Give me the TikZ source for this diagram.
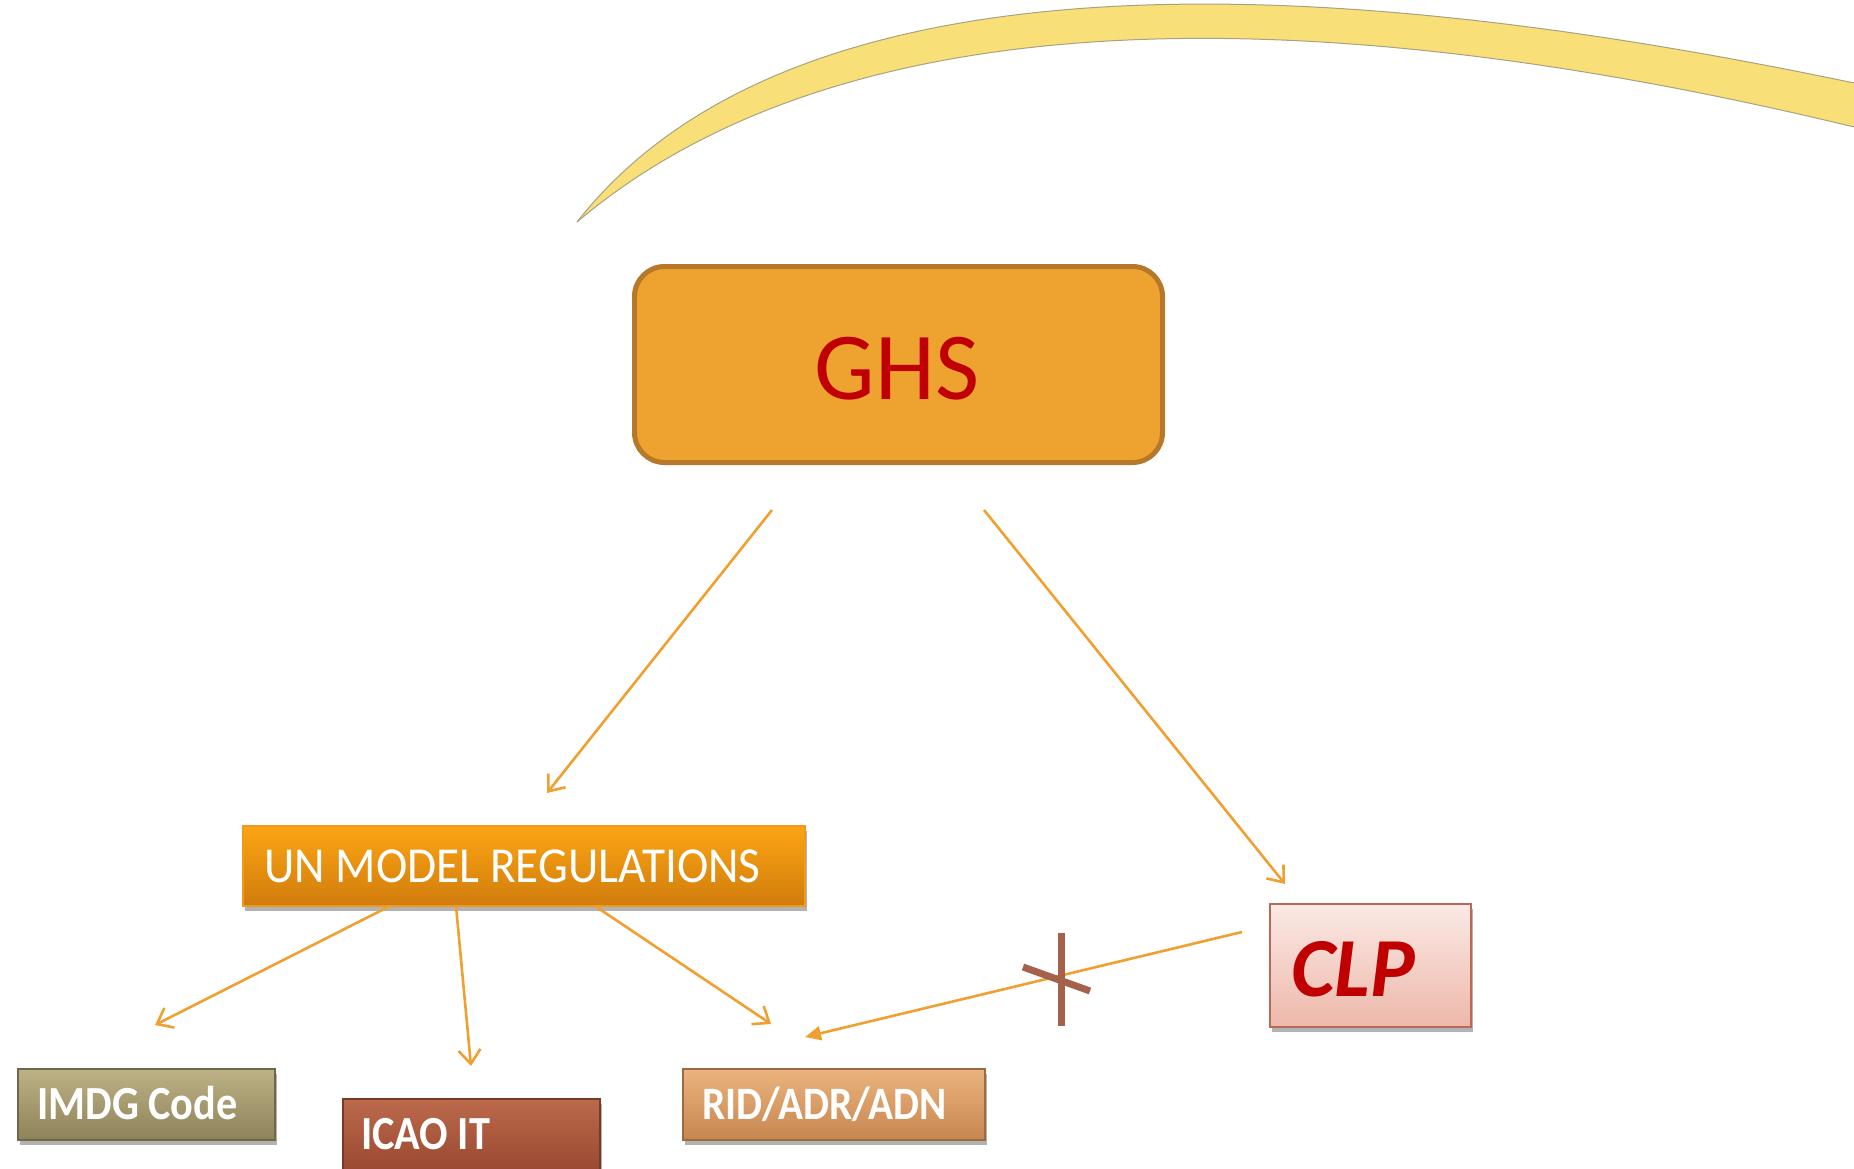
\documentclass[tikz,border=0pt]{standalone}
\usepackage{fontspec}
\usetikzlibrary{arrows.meta,shadows}
\newfontfamily\carl{Carlito}
\definecolor{arrowc}{HTML}{F0A030}
\definecolor{ghsfill}{HTML}{EEA230}
\definecolor{ghsborder}{HTML}{B7782A}
\definecolor{ghsred}{HTML}{C00000}
\definecolor{untop}{HTML}{FDA514}
\definecolor{unbot}{HTML}{D07C0C}
\definecolor{unborder}{HTML}{EE9A1E}
\definecolor{clptop}{HTML}{FBE9E5}
\definecolor{clpbot}{HTML}{EDB8AA}
\definecolor{clpborder}{HTML}{B86A58}
\definecolor{imdgtop}{HTML}{BDB286}
\definecolor{imdgmid}{HTML}{A09468}
\definecolor{imdgbot}{HTML}{8E8259}
\definecolor{imdgborder}{HTML}{6F6848}
\definecolor{icaotop}{HTML}{BC6A4C}
\definecolor{icaomid}{HTML}{A8553B}
\definecolor{icaobot}{HTML}{97472F}
\definecolor{icaoborder}{HTML}{7A3A28}
\definecolor{ridtop}{HTML}{EBB47E}
\definecolor{ridmid}{HTML}{D8995E}
\definecolor{ridbot}{HTML}{C78650}
\definecolor{ridborder}{HTML}{9A6A40}
\definecolor{crossc}{HTML}{A5614B}
\definecolor{arcfill}{HTML}{F8DF78}
\definecolor{arcedge}{HTML}{A8A282}
\newcommand{\lowtxt}[1]{\scalebox{0.96}[1.08]{#1}}
\begin{document}
\begin{tikzpicture}[x=1pt,y=-1pt,
  boxbase/.style={rectangle, inner sep=0pt, anchor=north west},
  shad/.style={drop shadow={shadow xshift=2pt,shadow yshift=-5pt,opacity=0.3,fill=black}},
  lowtext/.style={anchor=base west, inner sep=0pt, text=white, font=\carl\bfseries\fontsize{44}{46}\selectfont},
  conn/.style={draw=arrowc, line width=2.6pt, -{Straight Barb[length=14pt,width=22pt,line width=2.6pt]}},
  connfill/.style={draw=arrowc, line width=2.6pt, -{Triangle[length=16pt,width=14pt]}},
  crossline/.style={draw=crossc, line width=7pt}
]
\useasboundingbox (0,0) rectangle (1854,1169);
\begin{scope}
\clip (0,0) rectangle (1854,1169);
% crescent arc
\fill[arcfill]
  (577,222) .. controls (810,-75) and (1400,-12) .. (1854,83) -- (1870,86) -- (1870,130)
  -- (1854,127) .. controls (1420,22) and (880,-35) .. (577,222) -- cycle;
\draw[arcedge, line width=1pt] (577,222) .. controls (810,-75) and (1400,-12) .. (1854,83);
\draw[arcedge, line width=1pt] (1854,127) .. controls (1420,22) and (880,-35) .. (577,222);

% GHS
\node[boxbase, minimum width=528pt, minimum height=196pt, rounded corners=30pt,
  fill=ghsfill, draw=ghsborder, line width=5pt] (ghs) at (632,264) {};
\node[anchor=base, inner sep=0pt, text=ghsred, font=\carl\fontsize{96}{100}\selectfont] (ghst) at (897,399) {GHS};

% UN model regulations
\node[boxbase, shad, minimum width=562pt, minimum height=80pt,
  top color=untop, bottom color=unbot, draw=unborder, line width=1.5pt] (un) at (242,825) {};
\node[anchor=base west, inner sep=0pt, text=white, font=\carl\fontsize{48}{50}\selectfont] (unt) at (264,882) {\scalebox{0.985}[1.05]{UN MODEL REGULATIONS}};

% CLP
\node[boxbase, shad, minimum width=201pt, minimum height=123pt,
  top color=clptop, bottom color=clpbot, draw=clpborder, line width=1.5pt] (clp) at (1269,903) {};
\node[anchor=base west, inner sep=0pt, text=ghsred, font=\carl\bfseries\itshape\fontsize{84}{88}\selectfont] (clpt) at (1291,996) {CLP};

% lower boxes
\node[boxbase, shad, minimum width=257pt, minimum height=71pt,
  top color=imdgtop, middle color=imdgmid, bottom color=imdgbot, draw=imdgborder, line width=1.5pt] (imdg) at (17,1068) {};
\node[lowtext] (imdgt) at (37,1119) {\lowtxt{IMDG Code}};

\node[boxbase, shad, minimum width=257pt, minimum height=76pt,
  top color=icaotop, middle color=icaomid, bottom color=icaobot, draw=icaoborder, line width=1.5pt] (icao) at (342,1098) {};
\node[lowtext] (icaot) at (361,1149) {\lowtxt{ICAO IT}};

\node[boxbase, shad, minimum width=302pt, minimum height=71pt,
  top color=ridtop, middle color=ridmid, bottom color=ridbot, draw=ridborder, line width=1.5pt] (rid) at (682,1068) {};
\node[lowtext, font=\carl\bfseries\fontsize{43}{45}\selectfont] (ridt) at (702,1119) {\lowtxt{RID/ADR/ADN}};

% connector end points
\coordinate (g1) at (772,510);
\coordinate (g1e) at (547,793);
\coordinate (g2) at (984,510);
\coordinate (g2e) at (1285,884);
\coordinate (u1) at (390,906);
\coordinate (u1e) at (155,1025);
\coordinate (u2) at (456,906);
\coordinate (u2e) at (471,1066);
\coordinate (u3) at (595,906);
\coordinate (u3e) at (771,1024);
\coordinate (c1) at (1242,932);
\coordinate (c1e) at (805,1037);

\draw[conn] (g1) -- (g1e);
\draw[conn] (g2) -- (g2e);
\draw[conn] (u1) -- (u1e);
\draw[conn] (u2) -- (u2e);
\draw[conn] (u3) -- (u3e);
\draw[connfill] (c1) -- (c1e);

% cross
\coordinate (xa) at (1061,933);
\coordinate (xb) at (1061,1026);
\coordinate (xc) at (1023,967);
\coordinate (xd) at (1090,991);
\draw[crossline] (xa) -- (xb);
\draw[crossline] (xc) -- (xd);
\end{scope}
\end{tikzpicture}
\end{document}
